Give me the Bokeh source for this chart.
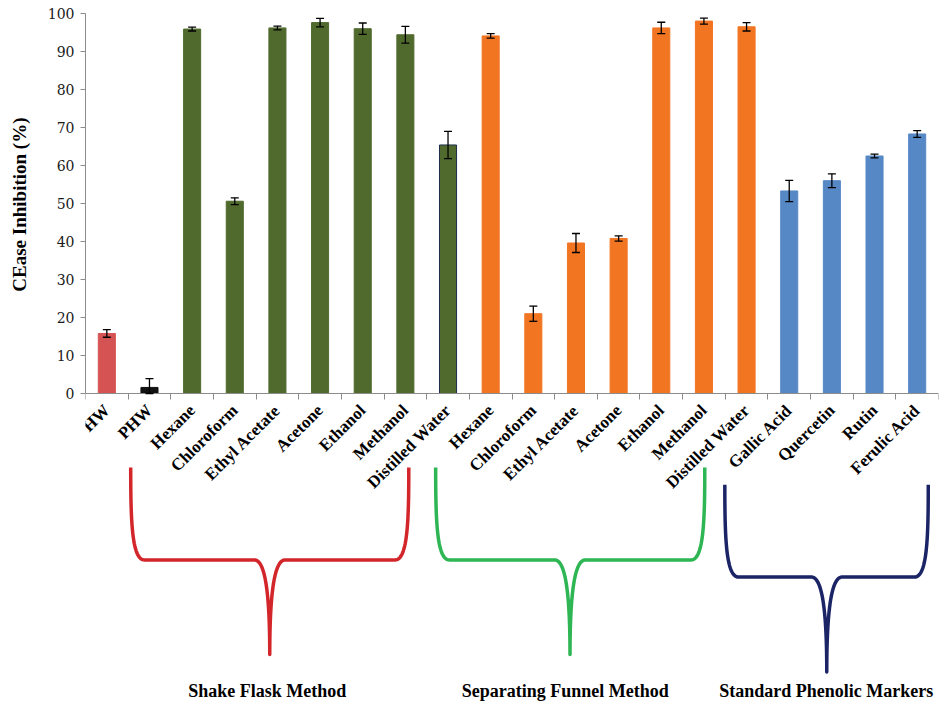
import numpy as np
from bokeh.plotting import figure
from bokeh.models import ColumnDataSource, Range1d, FixedTicker, Whisker, TeeHead, Title
from bokeh.core.properties import value
from bokeh.embed import file_html
from bokeh.resources import INLINE

# ---------------- data ----------------
categories = ["HW", "PHW",
              "Hexane", "Chloroform", "Ethyl Acetate", "Acetone", "Ethanol", "Methanol", "Distilled Water",
              "Hexane", "Chloroform", "Ethyl Acetate", "Acetone", "Ethanol", "Methanol", "Distilled Water",
              "Gallic Acid", "Quercetin", "Rutin", "Ferulic Acid"]
groups = (["HW", "PHW"] + ["Shake Flask Method"] * 7 + ["Separating Funnel Method"] * 7
          + ["Standard Phenolic Markers"] * 4)
inhibition = [15.8, 1.6, 95.9, 50.6, 96.2, 97.6, 96.0, 94.4, 65.4,
              94.1, 21.0, 39.6, 40.8, 96.2, 98.0, 96.5,
              53.3, 56.0, 62.5, 68.3]
sd = [1.0, 2.3, 0.5, 0.9, 0.5, 1.1, 1.5, 2.2, 3.6,
      0.6, 2.0, 2.5, 0.7, 1.5, 0.8, 1.1,
      2.8, 1.8, 0.5, 0.9]
y_ticks = list(range(0, 101, 10))
y_title = "CEase Inhibition (%)"
brace_labels = ["Shake Flask Method", "Separating Funnel Method", "Standard Phenolic Markers"]

# ---------------- styles ----------------
bar_colors = {"HW": "#D65353", "PHW": "#111111", "Shake Flask Method": "#506A2E",
              "Separating Funnel Method": "#F27522", "Standard Phenolic Markers": "#5688C6"}
brace_colors = {"Shake Flask Method": "#D3262B", "Separating Funnel Method": "#2DB653",
                "Standard Phenolic Markers": "#1B2566"}
# brace geometry (category units / axis units): left, right, centre, top, bar, tip, text x
brace_geom = {
    "Shake Flask Method": (1.06, 7.58, 4.32, -19.5, -43.8, -68.7, 4.26),
    "Separating Funnel Method": (8.21, 14.52, 11.36, -19.5, -43.8, -68.7, 11.25),
    "Standard Phenolic Markers": (14.99, 19.76, 17.38, -24.0, -48.3, -73.3, 17.37),
}
AXIS_GREY = "#8C8C8C"
SERIF = "Liberation Serif"

n = len(categories)
xs = [i + 0.5 for i in range(n)]
fill = [bar_colors[g] for g in groups]
outline = list(fill)
outline[8] = "#1E2B4D"
src = ColumnDataSource(dict(
    x=xs, top=inhibition, color=fill, line=outline,
    upper=[v + e for v, e in zip(inhibition, sd)],
    lower=[max(v - e, 0) for v, e in zip(inhibition, sd)],
))

p = figure(width=940, height=701, x_range=Range1d(0, n), y_range=Range1d(-81.05, 103.42),
           output_backend="svg", toolbar_location=None,
           min_border_left=85, min_border_right=2, min_border_top=0, min_border_bottom=0)
p.outline_line_color = None
p.xgrid.visible = False
p.ygrid.visible = False
p.background_fill_color = "white"
p.border_fill_color = "white"

p.vbar(x="x", top="top", width=0.4, source=src, fill_color="color", line_color="line", line_width=1)
wk = Whisker(base="x", upper="upper", lower="lower", source=src, level="overlay",
             line_color="black", line_width=1.3,
             upper_head=TeeHead(size=8, line_color="black", line_width=1.3),
             lower_head=TeeHead(size=8, line_color="black", line_width=1.3))
p.add_layout(wk)

# y axis
p.yaxis.ticker = FixedTicker(ticks=y_ticks)
p.yaxis.bounds = (0, 100)
p.yaxis.axis_line_color = AXIS_GREY
p.yaxis.major_tick_line_color = AXIS_GREY
p.yaxis.major_tick_out = 5
p.yaxis.major_tick_in = 0
p.yaxis.minor_tick_line_color = None
p.yaxis.major_label_text_font = "DejaVu Serif"
p.yaxis.major_label_text_font_size = "14px"
p.yaxis.major_label_text_color = "#1a1a1a"
p.yaxis.major_label_standoff = 6
# blank spacer label: keeps the title further from the tick labels
p.yaxis.axis_label = " "
p.yaxis.axis_label_text_font_size = "1px"
p.yaxis.axis_label_standoff = 6

# y title placed alongside the 0-100 span of the axis
p.add_layout(Title(text=y_title, align="right", offset=117, standoff=10,
                   text_font=SERIF, text_font_style="bold", text_font_size="19px",
                   text_color="black"), "left")

# x axis at y = 0
p.xaxis.ticker = FixedTicker(ticks=xs, minor_ticks=list(range(n + 1)))
p.xaxis.major_label_overrides = {x: c for x, c in zip(xs, categories)}
p.xaxis.fixed_location = 0
p.xaxis.axis_line_color = AXIS_GREY
p.xaxis.major_tick_line_color = None
p.xaxis.major_tick_out = 0
p.xaxis.major_tick_in = 0
p.xaxis.minor_tick_line_color = AXIS_GREY
p.xaxis.minor_tick_out = 6
p.xaxis.minor_tick_in = 0
p.xaxis.major_label_orientation = np.pi / 4
p.xaxis.major_label_standoff = 8
p.xaxis.major_label_text_font = SERIF
p.xaxis.major_label_text_font_style = "bold"
p.xaxis.major_label_text_font_size = "17px"
p.xaxis.major_label_text_color = "black"


def bezier(p0, p1, p2, p3, k=40):
    t = np.linspace(0, 1, k)[:, None]
    pts = ((1 - t) ** 3) * np.array(p0) + 3 * ((1 - t) ** 2) * t * np.array(p1) \
        + 3 * (1 - t) * t ** 2 * np.array(p2) + t ** 3 * np.array(p3)
    return pts


def brace(L, R, C, top, bar, tip):
    cw, hw = 0.32, 0.36
    segs = [
        bezier((L, top), (L, top + 0.55 * (bar - top)), (L + 0.02, bar), (L + cw, bar)),
        np.array([(L + cw, bar), (C - hw, bar)]),
        bezier((C - hw, bar), (C - 0.35 * hw, bar), (C, bar + 0.3 * (tip - bar)), (C, tip)),
        bezier((C, tip), (C, bar + 0.3 * (tip - bar)), (C + 0.35 * hw, bar), (C + hw, bar)),
        np.array([(C + hw, bar), (R - cw, bar)]),
        bezier((R - cw, bar), (R - 0.02, bar), (R, top + 0.55 * (bar - top)), (R, top)),
    ]
    pts = np.vstack(segs)
    return pts[:, 0], pts[:, 1]


for g in brace_labels:
    L, R, C, top, bar, tip, tx = brace_geom[g]
    bx, by = brace(L, R, C, top, bar, tip)
    p.line(bx, by, line_color=brace_colors[g], line_width=3.5, line_join="round")

p.text(x=[brace_geom[g][6] for g in brace_labels], y=[-78.2] * 3, text=brace_labels,
       text_font=value(SERIF), text_font_style="bold", text_font_size="18px",
       text_align="center", text_baseline="middle", text_color="black")

open("out.html", "w").write(file_html(p, INLINE))
